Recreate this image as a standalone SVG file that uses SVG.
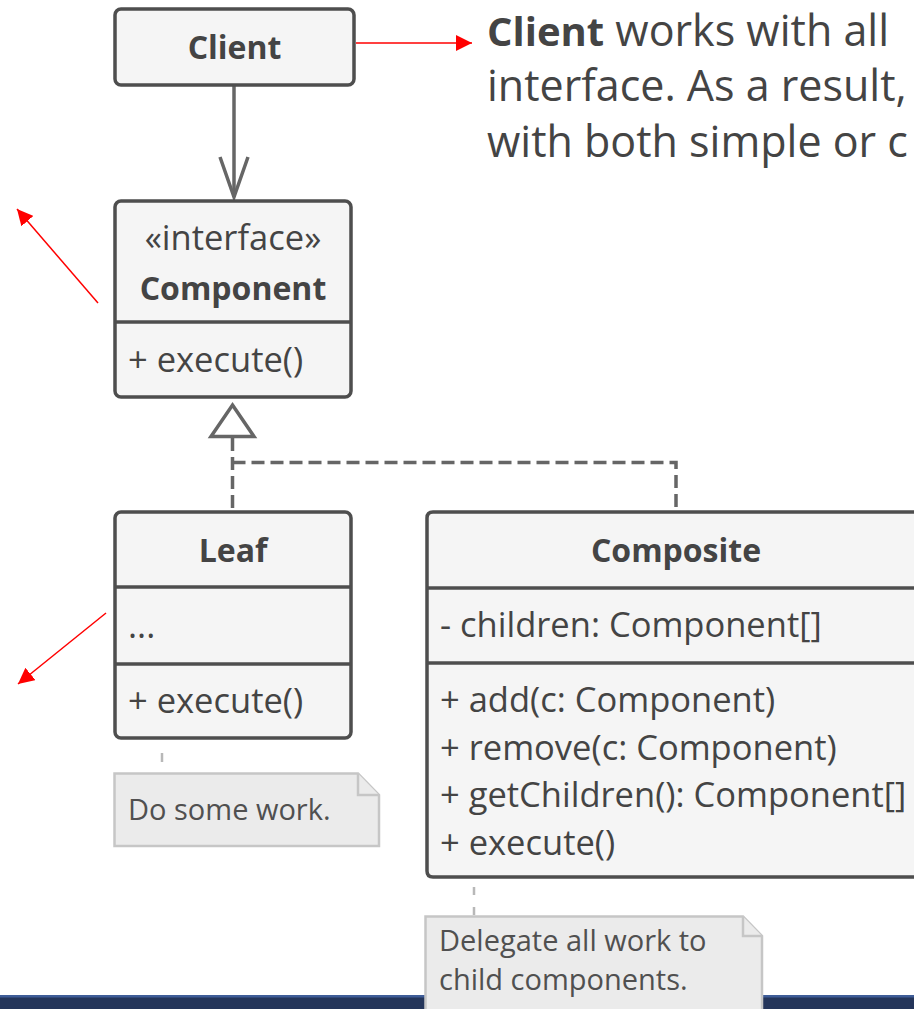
<svg xmlns="http://www.w3.org/2000/svg" width="914" height="1009" viewBox="0 0 914 1009">
<style>
.box{fill:#f5f5f5;stroke:#4e4e4e;stroke-width:3.5}
.sep{stroke:#4e4e4e;stroke-width:3.5}
.t{font-family:"Open Sans","Noto Sans","Liberation Sans",sans-serif;fill:#444}
.title{font-weight:bold;font-size:32px;text-anchor:middle}
.mem{font-size:34.5px}
.note{fill:#ebebeb;stroke:#c6c6c6;stroke-width:2.5}
.nt{font-size:29px;fill:#505050}
.conn{stroke:#666;stroke-width:3.5;fill:none}
.dash{stroke-dasharray:13 6}
.ndash{stroke:#b8b8b8;stroke-width:2.5;fill:none}
.red{stroke:#f00;stroke-width:1.5;fill:none}
</style>
<defs>
<marker id="redhead" markerUnits="userSpaceOnUse" markerWidth="16" markerHeight="16" refX="16" refY="8" orient="auto">
<path d="M0,0 L16,8 L0,16 Z" fill="#f00"/>
</marker>
</defs>
<rect width="914" height="1009" fill="#fff"/>
<rect x="0" y="995" width="914" height="14" fill="#24355a"/>
<rect x="0" y="995" width="914" height="2.5" fill="#3f5d98"/>

<g id="connectors">
<line class="conn" x1="234" y1="86" x2="234" y2="197"/>
<path class="conn" d="M220,157 L234,197 L248,157"/>
<path class="conn dash" d="M232.5,438 V511 M232.5,462.5 H676 V511"/>
<path class="conn" d="M232.5,405 L254,436.5 H211 Z" fill="#fff"/>
<path class="ndash" d="M162,753 V762"/>
<path class="ndash" d="M474,887 V895 M474,907 V915"/>
<line class="red" x1="356" y1="43" x2="472" y2="43" marker-end="url(#redhead)"/>
<line class="red" x1="98" y1="303" x2="17" y2="209" marker-end="url(#redhead)"/>
<line class="red" x1="106" y1="613" x2="18" y2="684" marker-end="url(#redhead)"/>
</g>

<g id="client">
<rect class="box" x="115" y="9" width="239" height="76" rx="6"/>
<text class="t title" x="234.5" y="59">Client</text>
</g>

<g id="component">
<rect class="box" x="115" y="201" width="236" height="196" rx="6"/>
<line class="sep" x1="115" y1="322" x2="351" y2="322"/>
<text class="t mem" x="233" y="250" text-anchor="middle">«interface»</text>
<text class="t title" x="233" y="300">Component</text>
<text class="t mem" x="128" y="372">+ execute()</text>
</g>

<g id="leaf">
<rect class="box" x="115" y="512" width="236" height="226" rx="6"/>
<line class="sep" x1="115" y1="587" x2="351" y2="587"/>
<line class="sep" x1="115" y1="664" x2="351" y2="664"/>
<text class="t title" x="233" y="562">Leaf</text>
<text class="t mem" x="128" y="638">...</text>
<text class="t mem" x="128" y="713">+ execute()</text>
</g>

<g id="composite">
<path class="box" d="M914,512 H433 Q427,512 427,518 V871 Q427,877 433,877 H914"/>
<line class="sep" x1="427" y1="588" x2="914" y2="588"/>
<line class="sep" x1="427" y1="663" x2="914" y2="663"/>
<text class="t title" x="676" y="562">Composite</text>
<text class="t mem" x="440" y="637">- children: Component[]</text>
<text class="t mem" x="440" y="712">+ add(c: Component)</text>
<text class="t mem" x="440" y="760">+ remove(c: Component)</text>
<text class="t mem" x="440" y="807">+ getChildren(): Component[]</text>
<text class="t mem" x="440" y="855">+ execute()</text>
</g>

<g id="note-leaf">
<path class="note" d="M114.5,773.5 H358 L379,795 V846 H114.5 Z"/>
<path class="note" d="M358,773.5 V795 H379"/>
<text class="t nt" x="128" y="820">Do some work.</text>
</g>

<g id="note-composite">
<path class="note" d="M425.5,1009 V916.5 H743 L762,936 V1009"/>
<path class="note" d="M743,916.5 V936 H762"/>
<text class="t nt" x="439" y="951" font-size="28">Delegate all work to</text>
<text class="t nt" x="439" y="990" font-size="28">child components.</text>
</g>

<g id="description">
<text class="t" x="487" y="46" font-size="43"><tspan font-weight="bold" font-size="40">Client</tspan> works with all</text>
<text class="t" x="487" y="101" font-size="43">interface. As a result,</text>
<text class="t" x="487" y="157" font-size="43">with both simple or c</text>
</g>
</svg>
